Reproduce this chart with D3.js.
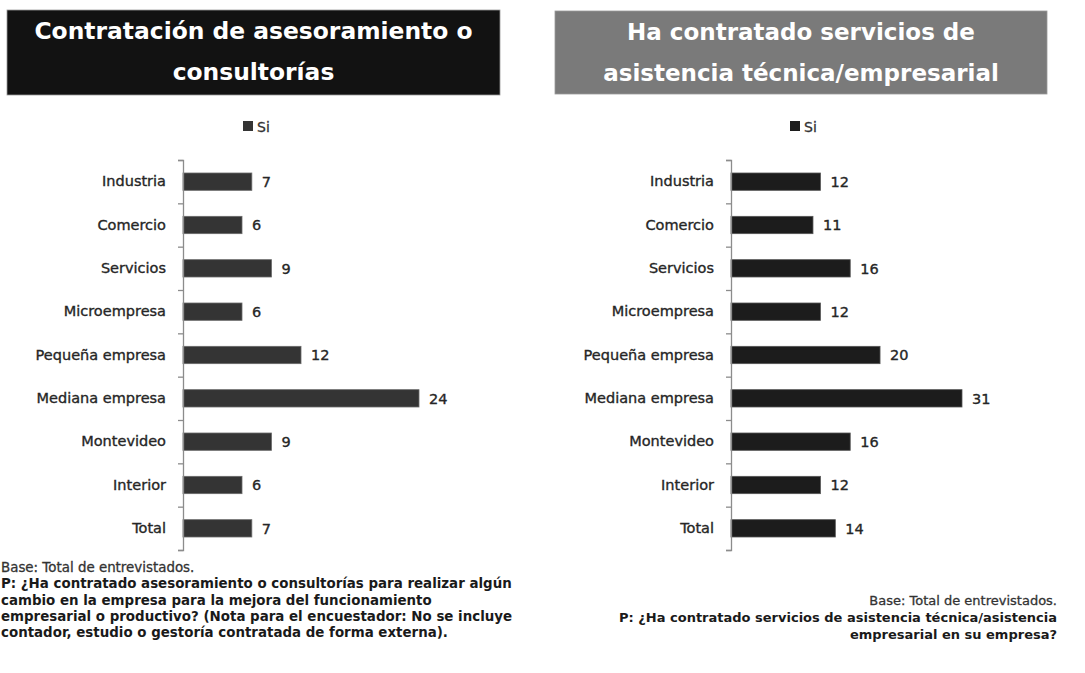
<!DOCTYPE html>
<html>
<head>
<meta charset="utf-8">
<script src="https://cdn.jsdelivr.net/npm/d3@7"></script>
<style>
  html, body { margin: 0; padding: 0; background: #ffffff; }
  svg { display: block; }
</style>
</head>
<body>
<svg id="chart" width="1085" height="673"></svg>
<script>
// Categories shared by both panels (top to bottom)
const categories = ["Industria", "Comercio", "Servicios", "Microempresa", "Pequeña empresa",
  "Mediana empresa", "Montevideo", "Interior", "Total"];

// Percentage answering "Si" in each panel
const asesoramientoSi = [7, 6, 9, 6, 12, 24, 9, 6, 7];
const asistenciaSi = [12, 11, 16, 12, 20, 31, 16, 12, 14];

const legendLabel = "Si";

const titleAsesoramiento = ["Contratación de asesoramiento o", "consultorías"];
const titleAsistencia = ["Ha contratado servicios de", "asistencia técnica/empresarial"];

const notesAsesoramiento = [
  "Base: Total de entrevistados.",
  "P: ¿Ha contratado asesoramiento o consultorías para realizar algún",
  "cambio en la empresa para la mejora del funcionamiento",
  "empresarial o productivo? (Nota para el encuestador: No se incluye",
  "contador, estudio o gestoría contratada de forma externa)."
];
const notesAsistencia = [
  "Base: Total de entrevistados.",
  "P: ¿Ha contratado servicios de asistencia técnica/asistencia",
  "empresarial en su empresa?"
];

const svg = d3.select("#chart");
const font = "'DejaVu Sans', sans-serif";

function drawPanel(opt) {
  const g = svg.append("g");

  // Title banner
  g.append("rect")
    .attr("x", opt.box[0]).attr("y", opt.box[1])
    .attr("width", opt.box[2]).attr("height", opt.box[3])
    .attr("fill", opt.boxFill)
    .attr("stroke", "#9a9a9a").attr("stroke-width", 0.8);
  const cx = opt.box[0] + opt.box[2] / 2;
  g.selectAll("text.title").data(opt.title).join("text")
    .attr("class", "title")
    .attr("x", cx)
    .attr("y", (d, i) => opt.titleY[i])
    .attr("text-anchor", "middle")
    .attr("font-family", font).attr("font-weight", "bold")
    .attr("font-size", opt.titleSize).attr("fill", "#ffffff")
    .text(d => d);

  // Legend
  g.append("rect")
    .attr("x", opt.legendX).attr("y", 121)
    .attr("width", 10).attr("height", 10)
    .attr("fill", opt.barFill);
  g.append("text")
    .attr("x", opt.legendX + 14).attr("y", 131.5)
    .attr("font-family", font).attr("font-size", 14)
    .attr("fill", "#333")
    .attr("stroke", "#333").attr("stroke-width", 0.3)
    .text(legendLabel);

  // Scales
  const y = d3.scaleBand().domain(categories)
    .range([160, 550]).paddingInner(0.6).paddingOuter(0.3);
  const x = d3.scaleLinear().domain([0, opt.max]).range([opt.axisX, opt.axisX + opt.width]);

  // Bars
  g.selectAll("rect.bar").data(opt.values).join("rect")
    .attr("class", "bar")
    .attr("x", x(0))
    .attr("y", (d, i) => y(categories[i]))
    .attr("width", d => x(d) - x(0))
    .attr("height", y.bandwidth())
    .attr("fill", opt.barFill)
    .attr("stroke", opt.barStroke).attr("stroke-width", 0.8);

  // Value labels
  g.selectAll("text.val").data(opt.values).join("text")
    .attr("class", "val")
    .attr("x", d => x(d) + 10)
    .attr("y", (d, i) => y(categories[i]) + y.bandwidth() / 2)
    .attr("dy", "0.36em")
    .attr("font-family", font).attr("font-size", 14.5)
    .attr("fill", "#262626")
    .attr("stroke", "#262626").attr("stroke-width", 0.35)
    .text(d => d);

  // Category axis with labels
  const catAxis = g.append("g")
    .attr("transform", `translate(${opt.axisX},0)`)
    .call(d3.axisLeft(y).tickSize(0).tickPadding(17));
  catAxis.select(".domain").remove();
  catAxis.selectAll("text")
    .attr("font-family", font).attr("font-size", 14.5)
    .attr("fill", "#262626")
    .attr("stroke", "#262626").attr("stroke-width", 0.35);

  // Axis line with ticks on category boundaries
  const boundary = d3.scaleLinear().domain([0, categories.length]).range([160, 550]);
  const lineAxis = g.append("g")
    .attr("transform", `translate(${opt.axisX},0)`)
    .call(d3.axisLeft(boundary).ticks(categories.length).tickSize(5).tickSizeOuter(5).tickFormat(""));
  lineAxis.selectAll("path, line").attr("stroke", "#8c8c8c").attr("stroke-width", 1.3);

  // Notes
  g.selectAll("text.note").data(opt.notes).join("text")
    .attr("class", "note")
    .attr("x", opt.noteX)
    .attr("y", (d, i) => opt.noteY + i * opt.noteStep)
    .attr("text-anchor", opt.noteAnchor)
    .attr("font-family", font)
    .attr("font-weight", (d, i) => i === 0 ? "normal" : "bold")
    .attr("font-size", opt.noteSize)
    .attr("fill", (d, i) => i === 0 ? "#333" : "#1a1a1a")
    .attr("stroke", (d, i) => i === 0 ? "#333" : "none")
    .attr("stroke-width", 0.3)
    .text(d => d);
}

drawPanel({
  box: [7, 10, 493, 85], boxFill: "#121212",
  title: titleAsesoramiento, titleY: [39, 80], titleSize: 23.4,
  legendX: 243,
  values: asesoramientoSi, max: 24, axisX: 183, width: 236,
  barFill: "#343434", barStroke: "#6a6a6a",
  notes: notesAsesoramiento, noteX: 1, noteY: 572, noteStep: 16.3,
  noteAnchor: "start", noteSize: 13.4
});

drawPanel({
  box: [555, 11, 492, 83], boxFill: "#7a7a7a",
  title: titleAsistencia, titleY: [40, 81], titleSize: 23,
  legendX: 790,
  values: asistenciaSi, max: 31, axisX: 731, width: 231,
  barFill: "#1c1c1c", barStroke: "#555555",
  notes: notesAsistencia, noteX: 1057, noteY: 605, noteStep: 17,
  noteAnchor: "end", noteSize: 13
});
</script>
</body>
</html>
